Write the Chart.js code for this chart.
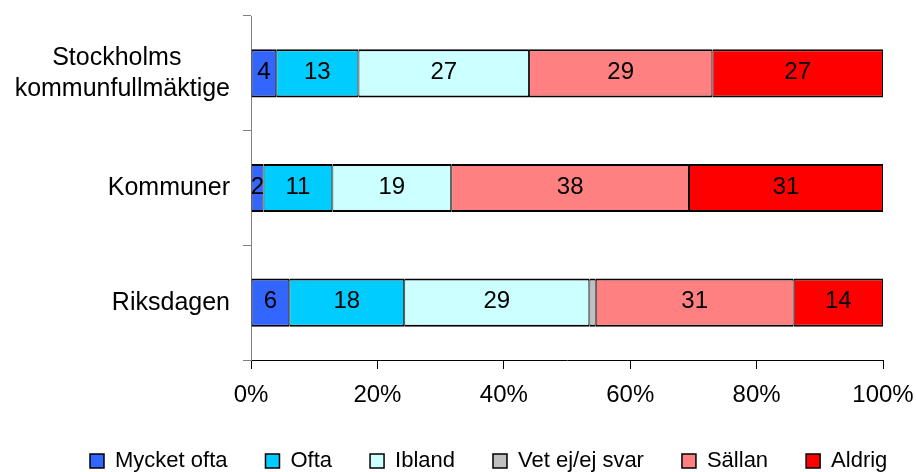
<!DOCTYPE html>
<html lang="sv">
<head>
<meta charset="UTF-8">
<title>Mycket ofta - Aldrig</title>
<script src="https://cdn.jsdelivr.net/npm/chart.js@4.4.1/dist/chart.umd.min.js"></script>
<style>
    html, body { margin: 0; background: #fff; }
</style>
</head>
<body>
<canvas id="chart" width="916" height="472"></canvas>
<script>
// raw values as printed in the bars (rows don't always add up to exactly 100)
var nbsp = '\u00A0';
var categories = [['Stockholms' + nbsp.repeat(7), 'kommunfullmäktige'], 'Kommuner', 'Riksdagen'];
var seriesNames = ['Mycket ofta', 'Ofta', 'Ibland', 'Vet ej/ej svar', 'Sällan', 'Aldrig'];
var mycketOfta = [4, 2, 6];
var ofta = [13, 11, 18];
var ibland = [27, 19, 29];
var vetEj = [0, 0, 1];
var sallan = [29, 38, 31];
var aldrig = [27, 31, 14];
var xTicks = [0, 20, 40, 60, 80, 100];
var colors = ['#3366FF', '#00CCFF', '#CCFFFF', '#C0C0C0', '#FF8080', '#FF0000'];

var series = [mycketOfta, ofta, ibland, vetEj, sallan, aldrig];
var FONT = '"Liberation Sans", Arial, sans-serif';
Chart.defaults.font.family = FONT;
Chart.defaults.color = '#000';

// 100% stacked: each row is scaled to its own total
var rowTotals = categories.map(function (c, i) {
    return series.reduce(function (s, arr) { return s + arr[i]; }, 0);
});

var datasets = series.map(function (arr, k) {
    return {
        label: seriesNames[k],
        raw: arr,
        data: arr.map(function (v, i) { return v / rowTotals[i] * 100; }),
        backgroundColor: colors[k],
        borderColor: '#000',
        borderWidth: { top: 2, bottom: 2, left: 1, right: 1 },
        borderSkipped: false,
        barPercentage: 0.42,
        categoryPercentage: 1
    };
});

var valueLabels = {
    id: 'valueLabels',
    afterDatasetsDraw: function (chart) {
        var ctx = chart.ctx;
        ctx.save();
        ctx.font = '24px ' + FONT;
        ctx.fillStyle = '#000';
        ctx.textAlign = 'center';
        ctx.textBaseline = 'middle';
        chart.data.datasets.forEach(function (ds, di) {
            chart.getDatasetMeta(di).data.forEach(function (bar, i) {
                if (Math.abs(bar.x - bar.base) < 10) return;
                ctx.fillText(String(ds.raw[i]), (bar.x + bar.base) / 2, bar.y - 1);
            });
        });
        ctx.restore();
    }
};

// move the legend so it starts where the original one does
var legendShift = {
    id: 'legendShift',
    afterLayout: function (chart) {
        chart.legend.left = 52;
        chart.legend.right = 1000;
    }
};

new Chart(document.getElementById('chart'), {
    type: 'bar',
    data: { labels: categories, datasets: datasets },
    plugins: [valueLabels, legendShift],
    options: {
        responsive: false,
        animation: false,
        indexAxis: 'y',
        layout: { padding: { top: 16, right: 33, bottom: -10, left: 0 } },
        plugins: {
            legend: {
                position: 'bottom',
                align: 'start',
                labels: {
                    font: { size: 22 },
                    color: '#000',
                    boxWidth: 14,
                    boxHeight: 14,
                    padding: 38
                }
            },
            tooltip: { enabled: false }
        },
        scales: {
            x: {
                stacked: true,
                min: 0,
                max: 100,
                afterBuildTicks: function (scale) {
                    scale.ticks = xTicks.map(function (v) { return { value: v }; });
                },
                ticks: {
                    callback: function (v) { return v + '%'; },
                    font: { size: 24 },
                    color: '#000',
                    padding: 12,
                    maxRotation: 0
                },
                grid: { drawOnChartArea: false, tickLength: 9, color: '#000' },
                border: { color: '#000' },
                afterFit: function (scale) {
                    scale.height = 52;
                    scale.paddingLeft = 0;
                    scale.paddingRight = 0;
                }
            },
            y: {
                stacked: true,
                ticks: {
                    font: { size: 25, lineHeight: 1.25 },
                    color: '#000',
                    padding: 13
                },
                grid: { drawOnChartArea: false, offset: true, tickLength: 8, color: '#808080' },
                border: { color: '#808080' },
                afterFit: function (scale) {
                    scale.width = 251;
                    scale.paddingTop = 0;
                    scale.paddingBottom = 0;
                }
            }
        }
    }
});
</script>
</body>
</html>
